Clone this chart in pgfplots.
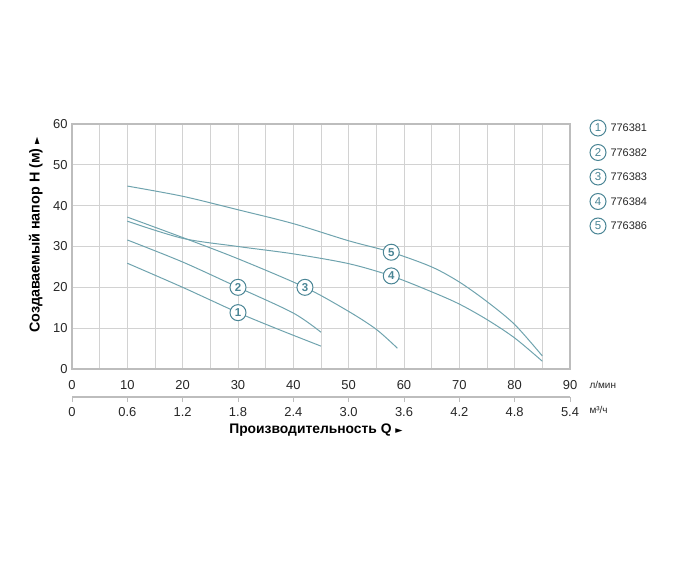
\documentclass[border=0pt]{standalone}
\usepackage{fontspec}
\setmainfont{Liberation Sans}
\newfontfamily\dej{DejaVu Sans}
\usepackage{pgfplots}
\pgfplotsset{compat=1.18}
\definecolor{curve}{HTML}{6FA3AE}
\definecolor{lab}{HTML}{4A8595}
\definecolor{gridc}{HTML}{D2D2D2}
\definecolor{framec}{HTML}{BDBDBD}
\tikzset{num/.style={circle, draw=lab, fill=white, line width=1pt, inner sep=0pt, minimum size=16bp, text=lab, font=\fontsize{11.5}{12}\selectfont\bfseries}}
\begin{document}
\begin{tikzpicture}[x=1bp,y=1bp]
\useasboundingbox (-72bp,-215bp) rectangle (628bp,369bp);
\begin{axis}[at={(0bp,0bp)}, anchor=south west, scale only axis,
  width=498bp, height=245bp,
  xmin=0, xmax=90, ymin=0, ymax=60,
  xtick={0,10,...,90}, minor xtick={5,15,...,85}, ytick={0,10,...,60},
  grid=both,
  major grid style={gridc, line width=0.9pt},
  minor grid style={gridc, line width=0.9pt},
  axis line style={framec, line width=1.1pt},
  major tick length=0pt, minor tick length=0pt,
  /pgf/number format/assume math mode=true,
  tick label style={font=\fontsize{13}{15}\selectfont, text=black!85},
  xticklabel style={yshift=-8bp},
  yticklabel style={xshift=-1bp},
  every axis y label/.style={at={(axis description cs:-0.0727,0.547)}, rotate=90, anchor=center},
  ylabel={\fontsize{14.4}{16}\selectfont\bfseries Создаваемый напор H (м) {\dej\fontsize{9.5}{10}\selectfont ►}},
  clip=false]
\addplot[curve, line width=1pt, smooth] coordinates {(10,25.9) (20,20.0) (30,13.8) (37.5,9.6) (45,5.6)};
\addplot[curve, line width=1pt, smooth] coordinates {(10,31.6) (20,26.2) (30,20.0) (40,13.7) (45,9.0)};
\addplot[curve, line width=1pt, smooth] coordinates {(10,37.2) (20,32.2) (30,27.0) (42.1,20.0) (50,14.1) (55,9.7) (58.8,5.1)};
\addplot[curve, line width=1pt, smooth] coordinates {(10,36.2) (20,32.0) (30,30.0) (40,28.2) (50,25.8) (57.7,22.8) (65,18.9) (70,15.9) (75,12.1) (80,7.6) (85,1.9)};
\addplot[curve, line width=1pt, smooth] coordinates {(10,44.8) (20,42.3) (30,39.0) (40,35.6) (50,31.4) (57.7,28.6) (65,25.0) (70,21.3) (75,16.5) (80,10.9) (85,3.2)};
\node[num] at (axis cs:30,13.8) {1};
\node[num] at (axis cs:30,20.0) {2};
\node[num] at (axis cs:42.1,20.0) {3};
\node[num] at (axis cs:57.7,22.8) {4};
\node[num] at (axis cs:57.7,28.6) {5};
\end{axis}
\begin{axis}[at={(0bp,-28bp)}, anchor=south west, scale only axis,
  width=498bp, height=10bp,
  xmin=0, xmax=90, ymin=0, ymax=1,
  axis x line=bottom, axis y line=none,
  x axis line style={-, framec, line width=1.1pt},
  xtick={0,10,...,90},
  xticklabels={0,0.6,1.2,1.8,2.4,3.0,3.6,4.2,4.8,5.4},
  tick align=outside, major tick length=5bp,
  xtick style={framec, line width=1pt},
  tick label style={font=\fontsize{13}{15}\selectfont, text=black!85},
  xticklabel style={yshift=-2bp},
  xlabel={\fontsize{13.9}{15}\selectfont\bfseries Производительность Q {\dej\fontsize{9.5}{10}\selectfont ►}},
  xlabel style={yshift=0bp, xshift=-5bp}]
\end{axis}
\node[anchor=west, font=\fontsize{10}{12}\selectfont, text=black!85] at (514bp,-16bp) {л/мин};
\node[anchor=west, font=\fontsize{10}{12}\selectfont, text=black!85] at (514bp,-41bp) {м³/ч};
\foreach \i/\t [count=\k from 0] in {1/776381,2/776382,3/776383,4/776384,5/776386} {
  \node[num, minimum size=16bp, font=\fontsize{11.5}{12}\selectfont] at (526bp,241bp-24.5bp*\k) {\i};
  \node[anchor=west, font=\fontsize{11}{12}\selectfont, text=black!85] at (535bp,241bp-24.5bp*\k) {\t};
}
\end{tikzpicture}
\end{document}
